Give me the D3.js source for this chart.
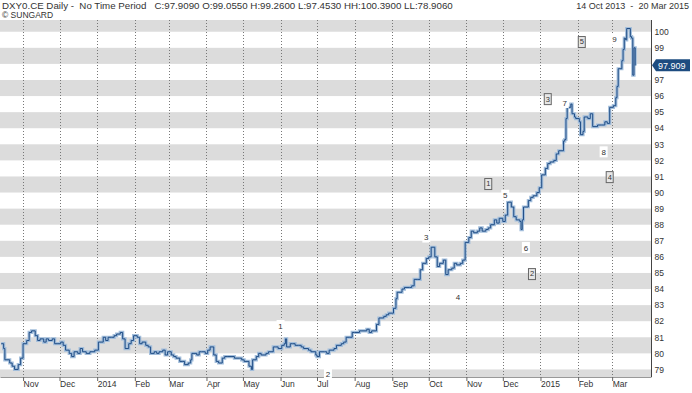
<!DOCTYPE html>
<html>
<head>
<meta charset="utf-8">
<script src="https://cdn.jsdelivr.net/npm/d3@7"></script>
<style>
  body { margin: 0; background: #fff; }
  text { font-family: "Liberation Sans", Arial, sans-serif; fill: #333; }
  .hdr { white-space: pre; }
</style>
</head>
<body>
<script>
// closing prices, roughly every 2-3 trading days
const prices2013 = [
  ["2013-10-14", 80.6], ["2013-10-16", 80.3], ["2013-10-17", 79.6], ["2013-10-21", 79.4],
  ["2013-10-23", 79.2], ["2013-10-25", 79.0], ["2013-10-28", 79.3], ["2013-10-30", 79.7],
  ["2013-11-01", 80.6], ["2013-11-04", 80.8], ["2013-11-06", 81.3], ["2013-11-08", 81.4],
  ["2013-11-11", 81.1], ["2013-11-13", 80.8], ["2013-11-15", 80.9], ["2013-11-18", 80.7],
  ["2013-11-20", 80.9], ["2013-11-22", 80.8], ["2013-11-25", 80.9], ["2013-11-27", 80.6],
  ["2013-11-29", 80.6], ["2013-12-02", 80.7], ["2013-12-04", 80.5], ["2013-12-06", 80.2],
  ["2013-12-09", 80.0], ["2013-12-11", 79.8], ["2013-12-13", 80.1], ["2013-12-16", 80.0],
  ["2013-12-18", 80.3], ["2013-12-20", 80.1], ["2013-12-23", 80.0], ["2013-12-26", 80.1],
  ["2013-12-30", 80.2]
];
const prices2014 = [
  ["2014-01-02", 80.7], ["2014-01-06", 81.0], ["2014-01-08", 80.8], ["2014-01-10", 81.0],
  ["2014-01-13", 81.0], ["2014-01-15", 81.1], ["2014-01-17", 81.2], ["2014-01-20", 81.3],
  ["2014-01-22", 80.9], ["2014-01-24", 80.3], ["2014-01-27", 80.6], ["2014-01-29", 80.8],
  ["2014-01-31", 81.1], ["2014-02-03", 81.0], ["2014-02-05", 80.6], ["2014-02-07", 80.7],
  ["2014-02-10", 80.5], ["2014-02-12", 80.4], ["2014-02-14", 80.0], ["2014-02-17", 80.1],
  ["2014-02-19", 80.0], ["2014-02-21", 80.1], ["2014-02-24", 80.2], ["2014-02-26", 79.9],
  ["2014-02-28", 80.1], ["2014-03-03", 79.9], ["2014-03-05", 79.8], ["2014-03-07", 79.7],
  ["2014-03-10", 79.5], ["2014-03-12", 79.5], ["2014-03-14", 79.3], ["2014-03-17", 79.4],
  ["2014-03-19", 79.6], ["2014-03-20", 80.0], ["2014-03-24", 79.9], ["2014-03-26", 80.1],
  ["2014-03-28", 80.1], ["2014-03-31", 80.0], ["2014-04-02", 80.2], ["2014-04-04", 80.4],
  ["2014-04-07", 79.9], ["2014-04-09", 79.5], ["2014-04-11", 79.4], ["2014-04-14", 79.7],
  ["2014-04-16", 79.8], ["2014-04-18", 79.8], ["2014-04-22", 79.8], ["2014-04-24", 79.7],
  ["2014-04-28", 79.7], ["2014-04-30", 79.6], ["2014-05-02", 79.5], ["2014-05-06", 79.2],
  ["2014-05-08", 79.0], ["2014-05-09", 79.6], ["2014-05-12", 79.8], ["2014-05-14", 80.0],
  ["2014-05-16", 79.9], ["2014-05-20", 80.0], ["2014-05-22", 80.1], ["2014-05-26", 80.4],
  ["2014-05-28", 80.4], ["2014-05-30", 80.3], ["2014-06-02", 80.5], ["2014-06-04", 80.6],
  ["2014-06-05", 80.9], ["2014-06-06", 80.4], ["2014-06-09", 80.6], ["2014-06-11", 80.6],
  ["2014-06-13", 80.5], ["2014-06-16", 80.5], ["2014-06-18", 80.4], ["2014-06-20", 80.3],
  ["2014-06-24", 80.2], ["2014-06-26", 80.1], ["2014-06-30", 79.9], ["2014-07-01", 79.8],
  ["2014-07-03", 80.1], ["2014-07-07", 80.1], ["2014-07-09", 80.0], ["2014-07-11", 80.2],
  ["2014-07-15", 80.3], ["2014-07-17", 80.5], ["2014-07-21", 80.6], ["2014-07-23", 80.7],
  ["2014-07-25", 81.0], ["2014-07-28", 81.0], ["2014-07-30", 81.3], ["2014-08-01", 81.3],
  ["2014-08-05", 81.4], ["2014-08-07", 81.4], ["2014-08-11", 81.5], ["2014-08-13", 81.3],
  ["2014-08-15", 81.4], ["2014-08-19", 81.8], ["2014-08-21", 82.2], ["2014-08-25", 82.3],
  ["2014-08-27", 82.4], ["2014-08-29", 82.5], ["2014-09-02", 82.8], ["2014-09-04", 83.4],
  ["2014-09-05", 83.8], ["2014-09-09", 84.0], ["2014-09-11", 84.1], ["2014-09-15", 84.1],
  ["2014-09-17", 84.2], ["2014-09-19", 84.6], ["2014-09-22", 84.6], ["2014-09-24", 85.2],
  ["2014-09-26", 85.6], ["2014-09-29", 85.9], ["2014-10-01", 86.0], ["2014-10-03", 86.6],
  ["2014-10-06", 86.0], ["2014-10-08", 85.4], ["2014-10-10", 85.6], ["2014-10-13", 85.8],
  ["2014-10-15", 84.9], ["2014-10-17", 85.2], ["2014-10-20", 85.3], ["2014-10-22", 85.6],
  ["2014-10-24", 85.5], ["2014-10-27", 85.6], ["2014-10-29", 85.8], ["2014-10-31", 86.9],
  ["2014-11-03", 87.2], ["2014-11-05", 87.6], ["2014-11-07", 87.5], ["2014-11-10", 87.6],
  ["2014-11-12", 87.8], ["2014-11-14", 87.6], ["2014-11-17", 87.7], ["2014-11-19", 87.8],
  ["2014-11-21", 88.0], ["2014-11-24", 88.3], ["2014-11-26", 88.1], ["2014-11-28", 88.4],
  ["2014-12-01", 88.2], ["2014-12-03", 88.6], ["2014-12-05", 89.4], ["2014-12-08", 89.1],
  ["2014-12-10", 88.5], ["2014-12-12", 88.3], ["2014-12-15", 88.2], ["2014-12-16", 87.7],
  ["2014-12-17", 88.3], ["2014-12-18", 89.1], ["2014-12-22", 89.5], ["2014-12-24", 89.7],
  ["2014-12-26", 89.8], ["2014-12-29", 90.0], ["2014-12-31", 90.3]
];
const prices2015 = [
  ["2015-01-02", 91.1], ["2015-01-05", 91.5], ["2015-01-07", 91.8], ["2015-01-09", 91.9],
  ["2015-01-12", 92.0], ["2015-01-14", 92.4], ["2015-01-16", 92.6], ["2015-01-20", 93.2],
  ["2015-01-21", 93.3], ["2015-01-22", 94.6], ["2015-01-23", 95.3], ["2015-01-26", 95.5],
  ["2015-01-27", 94.9], ["2015-01-29", 94.7], ["2015-01-30", 94.6], ["2015-02-02", 94.4],
  ["2015-02-03", 93.6], ["2015-02-05", 93.8], ["2015-02-06", 94.7], ["2015-02-09", 94.6],
  ["2015-02-11", 94.9], ["2015-02-13", 94.1], ["2015-02-17", 94.2], ["2015-02-19", 94.2],
  ["2015-02-20", 94.2], ["2015-02-23", 94.4], ["2015-02-25", 94.3], ["2015-02-27", 95.3],
  ["2015-03-02", 95.4], ["2015-03-04", 95.9], ["2015-03-05", 96.6], ["2015-03-06", 97.7],
  ["2015-03-09", 98.2], ["2015-03-10", 98.9], ["2015-03-11", 99.6], ["2015-03-12", 99.5],
  ["2015-03-13", 100.2], ["2015-03-16", 99.7], ["2015-03-17", 99.6], ["2015-03-18", 97.3],
  ["2015-03-19", 99.0], ["2015-03-20", 97.9]
];

// wave counts drawn on the chart: [label, date, price level]
const waveLabels = [
  ["1", "2014-06-01", 81.7], ["2", "2014-07-10", 78.7], ["3", "2014-09-29", 87.2],
  ["4", "2014-10-25", 83.5], ["5", "2014-12-03", 89.8], ["6", "2014-12-20", 86.55],
  ["7", "2015-01-21", 95.57], ["8", "2015-02-22", 92.5], ["9", "2015-03-03", 99.5]
];
const boxedLabels = [
  ["1", "2014-11-19", 90.53], ["2", "2014-12-25", 84.93], ["3", "2015-01-07", 95.81],
  ["4", "2015-02-27", 90.96], ["5", "2015-02-04", 99.36]
];

const headerText = "DXY0.CE Daily -  No Time Period   C:97.9090 O:99.0550 H:99.2600 L:97.4530 HH:100.3900 LL:78.9060";
const sourceText = "\u00A9 SUNGARD";
const rangeText = "14 Oct 2013  -  20 Mar 2015";
const lastPrice = 97.909;
// 98 sits under the last-price tag, so it is not listed
const yTicks = [79, 80, 81, 82, 83, 84, 85, 86, 87, 88, 89, 90, 91, 92, 93, 94, 95, 96, 97, 99, 100];

const width = 692, height = 393;
const plot = {left: 0, right: 651, top: 20, bottom: 377};

const parse = d3.timeParse("%Y-%m-%d");
const prices = prices2013.concat(prices2014, prices2015)
  .map(d => ({date: parse(d[0]), close: d[1]}));

const x = d3.scaleTime()
  .domain([parse("2013-10-13"), parse("2015-04-02")])
  .range([plot.left, plot.right]);
const y = d3.scaleLinear()
  .domain([78.53, 100.73])
  .range([plot.bottom, plot.top]);

const svg = d3.select("body").append("svg")
  .attr("width", width)
  .attr("height", height);

/**
 * Adds a header text and scales its font so it spans the given width
 */
function headerLine(str, x0, yPos, span, anchor) {
  const t = svg.append("text")
    .attr("class", "hdr")
    .attr("x", x0).attr("y", yPos)
    .attr("text-anchor", anchor || "start")
    .style("font-size", "8.5px")
    .text(str);
  if (span) {
    const w = t.node().getComputedTextLength();
    t.style("font-size", (8.5 * span / w).toFixed(2) + "px");
  }
  return t;
}
headerLine(headerText, 2, 9, 451);
headerLine(sourceText, 2, 18);
headerLine(rangeText, 689, 9, 113, "end");

// alternating grey bands, one per unit
const bandStarts = y.ticks(30).filter(v => Number.isInteger(v) && v % 2 === 0);
bandStarts.unshift(78);
svg.append("g").selectAll("rect")
  .data(bandStarts)
  .join("rect")
  .attr("x", plot.left)
  .attr("width", plot.right - plot.left)
  .attr("y", d => Math.max(plot.top, y(d + 1)))
  .attr("height", d => Math.min(plot.bottom, y(d)) - Math.max(plot.top, y(d + 1)))
  .attr("fill", "#dcdcdc");

// dotted month gridlines
const months = d3.timeMonth.range(parse("2013-11-01"), parse("2015-03-02"));
svg.append("g").selectAll("line")
  .data(months)
  .join("line")
  .attr("x1", d => Math.round(x(d)) + 0.5)
  .attr("x2", d => Math.round(x(d)) + 0.5)
  .attr("y1", plot.top)
  .attr("y2", plot.bottom)
  .attr("stroke", "#777")
  .attr("stroke-dasharray", "1,2");

// bottom axis
const fmt = d => d.getMonth() === 0 ? d3.timeFormat("%Y")(d) : d3.timeFormat("%b")(d);
const xAxis = svg.append("g")
  .attr("transform", `translate(0,${plot.bottom})`)
  .call(d3.axisBottom(x).tickValues(months).tickFormat(fmt).tickSize(4).tickSizeOuter(0));
xAxis.select(".domain").attr("stroke", "#999");
xAxis.selectAll(".tick line").attr("stroke", "#666");
xAxis.selectAll(".tick text")
  .attr("text-anchor", "start")
  .attr("dy", "0.2em")
  .attr("y", 8)
  .style("font-size", "8.5px")
  .style("font-family", "Liberation Sans, Arial, sans-serif")
  .attr("fill", "#333");

// right axis
const yAxis = svg.append("g")
  .attr("transform", `translate(${plot.right + 0.5},0)`)
  .call(d3.axisRight(y).tickValues(yTicks).tickSize(0).tickPadding(3));
yAxis.select(".domain").attr("stroke", "#444").attr("d", `M0,${plot.top}V${plot.bottom}`);
yAxis.selectAll(".tick text")
  .style("font-size", "8.5px")
  .style("font-family", "Liberation Sans, Arial, sans-serif")
  .attr("fill", "#333");

// price line: light shadow with a dark step line on top
const line = d3.line()
  .x(d => x(d.date))
  .y(d => y(d.close))
  .curve(d3.curveStepAfter);
svg.append("path").datum(prices)
  .attr("d", line)
  .attr("fill", "none")
  .attr("stroke", "#a3bedb")
  .attr("stroke-width", 3.2);
svg.append("path").datum(prices)
  .attr("d", line)
  .attr("fill", "none")
  .attr("stroke", "#1f4d86")
  .attr("stroke-width", 1);

// wave labels
const waves = svg.append("g").selectAll("g")
  .data(waveLabels)
  .join("g")
  .attr("transform", d => `translate(${x(parse(d[1]))},${y(d[2])})`);
waves.append("rect")
  .attr("x", -4).attr("y", -6).attr("width", 8).attr("height", 11)
  .attr("fill", "#fff");
waves.append("text")
  .attr("text-anchor", "middle")
  .attr("dy", "0.32em")
  .style("font-size", "8px")
  .attr("fill", "#222")
  .text(d => d[0]);

const boxed = svg.append("g").selectAll("g")
  .data(boxedLabels)
  .join("g")
  .attr("transform", d => `translate(${x(parse(d[1]))},${y(d[2])})`);
boxed.append("rect")
  .attr("x", -3.5).attr("y", -5.5).attr("width", 7).attr("height", 11)
  .attr("fill", "#e6e6e6")
  .attr("stroke", "#666");
boxed.append("text")
  .attr("text-anchor", "middle")
  .attr("dy", "0.32em")
  .style("font-size", "7.5px")
  .attr("fill", "#222")
  .text(d => d[0]);

// last price tag
const ly = y(lastPrice);
svg.append("path")
  .attr("d", `M${plot.right + 1},${ly} L${plot.right + 5},${ly - 6} H${width - 2} V${ly + 6} H${plot.right + 5} Z`)
  .attr("fill", "#1d4c80");
svg.append("text")
  .attr("x", plot.right + 7)
  .attr("y", ly)
  .attr("dy", "0.35em")
  .style("font-size", "9px")
  .style("fill", "#fff")
  .text(lastPrice.toFixed(3));
</script>
</body>
</html>
